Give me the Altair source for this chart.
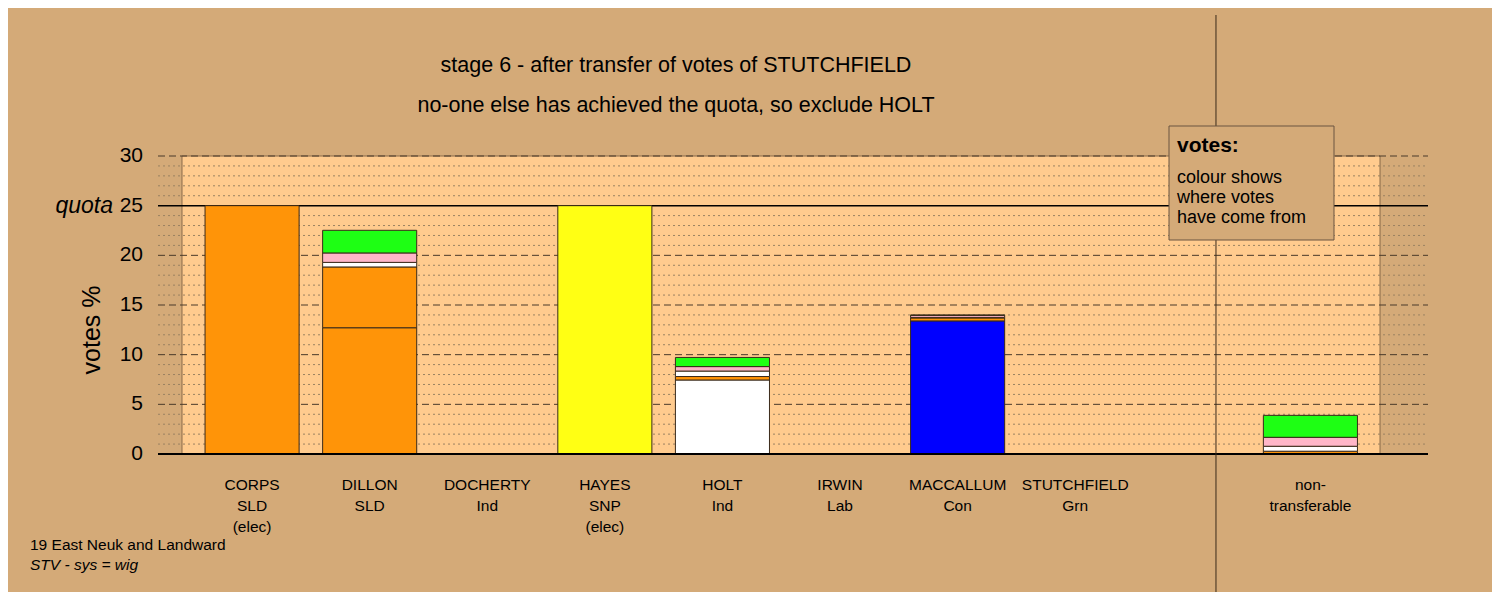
import altair as alt
import pandas as pd

# ---------------- data ----------------
candidate_names = ["CORPS", "DILLON", "DOCHERTY", "HAYES", "HOLT", "IRWIN",
                   "MACCALLUM", "STUTCHFIELD", "non-"]
label_line2 = ["SLD", "SLD", "Ind", "SNP", "Ind", "Lab", "Con", "Grn", "transferable"]
label_line3 = ["(elec)", "", "", "(elec)", "", "", "", "", ""]
slots = [0, 1, 2, 3, 4, 5, 6, 7, 9]
own_party = ["SLD", "SLD", "Ind", "SNP", "Ind", "Lab", "Con", "Grn", "none"]

own_votes        = [25.0, 12.71, 0.0, 25.0, 7.45, 0.0, 13.40, 0.0, 0.00]
from_corps       = [0.0,   6.12, 0.0,  0.0, 0.35, 0.0,  0.30, 0.0, 0.28]
from_docherty    = [0.0,   0.46, 0.0,  0.0, 0.55, 0.0,  0.05, 0.0, 0.50]
from_irwin       = [0.0,   0.95, 0.0,  0.0, 0.45, 0.0,  0.20, 0.0, 0.90]
from_stutchfield = [0.0,   2.28, 0.0,  0.0, 0.92, 0.0,  0.05, 0.0, 2.21]

source_party = ["SLD", "Ind", "Lab", "Grn"]   # CORPS, DOCHERTY, IRWIN, STUTCHFIELD

party_colours = {"SLD": "#FF9408", "Ind": "#FFFFFF", "SNP": "#FFFF14",
                 "Lab": "#FFB6C8", "Con": "#0000FF", "Grn": "#1EFF14", "none": "#FFFFFF"}

minor_grid = [v for v in range(1, 30) if v % 5 != 0]
major_grid = [5, 10, 15, 20, 30]
quota = 25
y_ticks = [0, 5, 10, 15, 20, 25, 30]

# ---------------- build tables ----------------
rows = []
for i in range(len(candidate_names)):
    base = 0.0
    parts = [(own_votes[i], own_party[i]),
             (from_corps[i], source_party[0]),
             (from_docherty[i], source_party[1]),
             (from_irwin[i], source_party[2]),
             (from_stutchfield[i], source_party[3])]
    for val, p in parts:
        if val > 0:
            rows.append({"x0": slots[i] - 0.4, "x1": slots[i] + 0.4,
                         "y0": base, "y1": base + val, "col": party_colours[p]})
            base += val
bars_df = pd.DataFrame(rows)

labels_df = pd.DataFrame({
    "x": slots,
    "label": ["\n".join([l for l in (a, b, c) if l]) for a, b, c in
              zip(candidate_names, label_line2, label_line3)],
})

FONT = "Liberation Sans"
XDOM = [-0.8, 10.0]
xs = alt.Scale(domain=XDOM, nice=False, zero=False)
ys = alt.Scale(domain=[0, 30], nice=False, zero=True)

# panel (lighter area)
panel = alt.Chart(pd.DataFrame({"a": [-0.596], "b": [9.592], "c": [0], "d": [30]})).mark_rect(
    fill="#FFCB8E", stroke="#8A6A48", strokeWidth=1
).encode(x=alt.X("a:Q", scale=xs, axis=None), x2="b:Q",
         y=alt.Y("c:Q", scale=ys, axis=None), y2="d:Q")

minor = alt.Chart(pd.DataFrame({"v": minor_grid})).mark_rule(
    color="#9A8262", strokeWidth=1, strokeDash=[2, 3]
).encode(y=alt.Y("v:Q", scale=ys, axis=None), x=alt.value(0), x2=alt.value(1270))

major = alt.Chart(pd.DataFrame({"v": major_grid})).mark_rule(
    color="#4A3A2A", strokeWidth=1, strokeDash=[7, 4]
).encode(y=alt.Y("v:Q", scale=ys, axis=None), x=alt.value(0), x2=alt.value(1270))

quota_line = alt.Chart(pd.DataFrame({"v": [quota]})).mark_rule(
    color="#000000", strokeWidth=1.5
).encode(y=alt.Y("v:Q", scale=ys, axis=None), x=alt.value(0), x2=alt.value(1270))

bars = alt.Chart(bars_df).mark_rect(stroke="#3A2A1A", strokeWidth=1).encode(
    x=alt.X("x0:Q", scale=xs, axis=None), x2="x1:Q",
    y=alt.Y("y0:Q", scale=ys, axis=None), y2="y1:Q",
    fill=alt.Fill("col:N", scale=None),
)

baseline = alt.Chart(pd.DataFrame({"v": [0]})).mark_rule(
    color="#000000", strokeWidth=2
).encode(y=alt.Y("v:Q", scale=ys, axis=None), x=alt.value(0), x2=alt.value(1270))

divider = alt.Chart(pd.DataFrame({"v": [8.197]})).mark_rule(
    color="#3A2A1A", strokeWidth=1
).encode(x=alt.X("v:Q", scale=xs, axis=None), y=alt.value(-141), y2=alt.value(440))

tick_labels = alt.Chart(pd.DataFrame({"v": y_ticks})).mark_text(
    font=FONT, fontSize=21, align="right", baseline="middle", color="#000000"
).encode(x=alt.value(-15), y=alt.Y("v:Q", scale=ys, axis=None), text="v:Q")

cat_labels = alt.Chart(labels_df).mark_text(
    font=FONT, fontSize=15.5, baseline="top", align="center", lineBreak="\n",
    lineHeight=21, color="#000000"
).encode(x=alt.X("x:Q", scale=xs, axis=None), y=alt.value(322), text="label:N")


def txt(s, x, y, size, align="left", weight="normal", style="normal", angle=0):
    return alt.Chart(pd.DataFrame({"t": [s]})).mark_text(
        font=FONT, fontSize=size, align=align, baseline="middle",
        fontWeight=weight, fontStyle=style, angle=angle, color="#000000"
    ).encode(x=alt.value(x), y=alt.value(y), text="t:N")


title1 = txt("stage 6 - after transfer of votes of STUTCHFIELD", 518, -90, 21.5, "center")
title2 = txt("no-one else has achieved the quota, so exclude HOLT", 518, -50, 21.5, "center")
ytitle = txt("votes %", -66, 174, 25, "center", angle=270)
quota_lbl = alt.Chart(pd.DataFrame({"t": ["quota"], "v": [quota]})).mark_text(
    font=FONT, fontSize=23, fontStyle="italic", align="right", baseline="middle", color="#000000"
).encode(x=alt.value(-45), y=alt.Y("v:Q", scale=ys, axis=None), text="t:N")
foot1 = txt("19 East Neuk and Landward", -128, 389, 15.5)
foot2 = txt("STV - sys = wig", -128, 409, 15.5, style="italic")

legend_box = alt.Chart(pd.DataFrame({"a": [0]})).mark_rect(
    fill="#D4AA78", stroke="#6A5440", strokeWidth=1
).encode(x=alt.value(1011), x2=alt.value(1176), y=alt.value(-30), y2=alt.value(84))
leg_t = txt("votes:", 1019, -10, 21, weight="bold")
leg1 = txt("colour shows", 1019, 22, 18)
leg2 = txt("where votes", 1019, 42, 18)
leg3 = txt("have come from", 1019, 62, 18)

chart = alt.layer(
    panel, minor, major, quota_line, bars, baseline, divider, tick_labels, cat_labels,
    title1, title2, ytitle, quota_lbl, foot1, foot2,
    legend_box, leg_t, leg1, leg2, leg3,
).properties(
    width=1270, height=298,
    autosize=alt.AutoSizeParams(type="none"),
    padding={"left": 150, "top": 148, "right": 64, "bottom": 138},
).configure(background="#D4AA78").configure_view(stroke=None)

chart.save("out.html", embed_options={"renderer": "svg", "actions": False})
